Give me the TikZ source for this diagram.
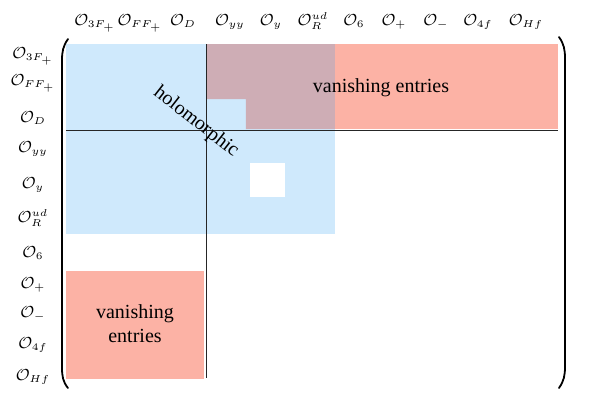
\documentclass[tikz,border=0pt]{standalone}
\usepackage{fontspec}
\setmainfont{Liberation Serif}
\definecolor{holoblue}{RGB}{207,233,252}
\definecolor{vanred}{RGB}{252,178,165}
\definecolor{mauve}{RGB}{206,173,181}
\begin{document}
\begin{tikzpicture}[x=0.5pt,y=-0.5pt,
  lab/.style={font=\fontsize{7.6}{9}\selectfont, inner sep=0pt, anchor=base},
  bigtext/.style={font=\normalsize, inner sep=0pt, align=center},
  paren/.style={line width=0.9pt, line cap=round},
  divline/.style={line width=0.5pt, draw=black!85}]
\useasboundingbox (0,0) rectangle (591,409);
% shaded regions
\fill[holoblue] (66,44) rectangle (335,234);
\fill[white] (250,163) rectangle (285,197);
\fill[vanred] (335,44) rectangle (558,129);
\fill[mauve] (207,44) -- (335,44) -- (335,129) -- (246,129) -- (246,99) -- (207,99) -- cycle;
\fill[vanred] (66,271) rectangle (204,379);
% dividing lines
\draw[divline] (66,130) -- (558,130);
\draw[divline] (207,44) -- (207,378);
% parentheses
\draw[paren] (68,39) .. controls (63,46) and (62,52) .. (62,60) -- (62,368) .. controls (62,376) and (63,382) .. (68,388);
\draw[paren] (559,37) .. controls (564,44) and (565,50) .. (565,58) -- (565,367) .. controls (565,375) and (564,381) .. (559,388);
% column labels
\node[lab] (c1) at (95,25) {$\mathcal{O}_{3F_+}$};
\node[lab] (c2) at (140,25) {$\mathcal{O}_{FF_+}$};
\node[lab] (c3) at (183,25) {$\mathcal{O}_{D}$};
\node[lab] (c4) at (230,25) {$\mathcal{O}_{yy}$};
\node[lab] (c5) at (271,25) {$\mathcal{O}_{y}$};
\node[lab] (c6) at (313,25) {$\mathcal{O}_{R}^{ud}$};
\node[lab] (c7) at (354,25) {$\mathcal{O}_{6}$};
\node[lab] (c8) at (394,25) {$\mathcal{O}_{+}$};
\node[lab] (c9) at (436,25) {$\mathcal{O}_{-}$};
\node[lab] (c10) at (478,25) {$\mathcal{O}_{4f}$};
\node[lab] (c11) at (526,25) {$\mathcal{O}_{Hf}$};
% row labels
\node[lab] (r1) at (33,58) {$\mathcal{O}_{3F_+}$};
\node[lab] (r2) at (33,85) {$\mathcal{O}_{FF_+}$};
\node[lab] (r3) at (33,122) {$\mathcal{O}_{D}$};
\node[lab] (r4) at (33,152) {$\mathcal{O}_{yy}$};
\node[lab] (r5) at (33,188) {$\mathcal{O}_{y}$};
\node[lab] (r6) at (33,222) {$\mathcal{O}_{R}^{ud}$};
\node[lab] (r7) at (33,257) {$\mathcal{O}_{6}$};
\node[lab] (r8) at (33,288) {$\mathcal{O}_{+}$};
\node[lab] (r9) at (33,317) {$\mathcal{O}_{-}$};
\node[lab] (r10) at (33,348) {$\mathcal{O}_{4f}$};
\node[lab] (r11) at (33,380) {$\mathcal{O}_{Hf}$};
% texts
\node[bigtext] (vtop) at (381,88) {vanishing entries};
\node[bigtext] (vbot) at (135,324) {vanishing\\entries};
\node[bigtext, rotate=-38] (holo) at (196,122) {holomorphic};
\end{tikzpicture}
\end{document}
